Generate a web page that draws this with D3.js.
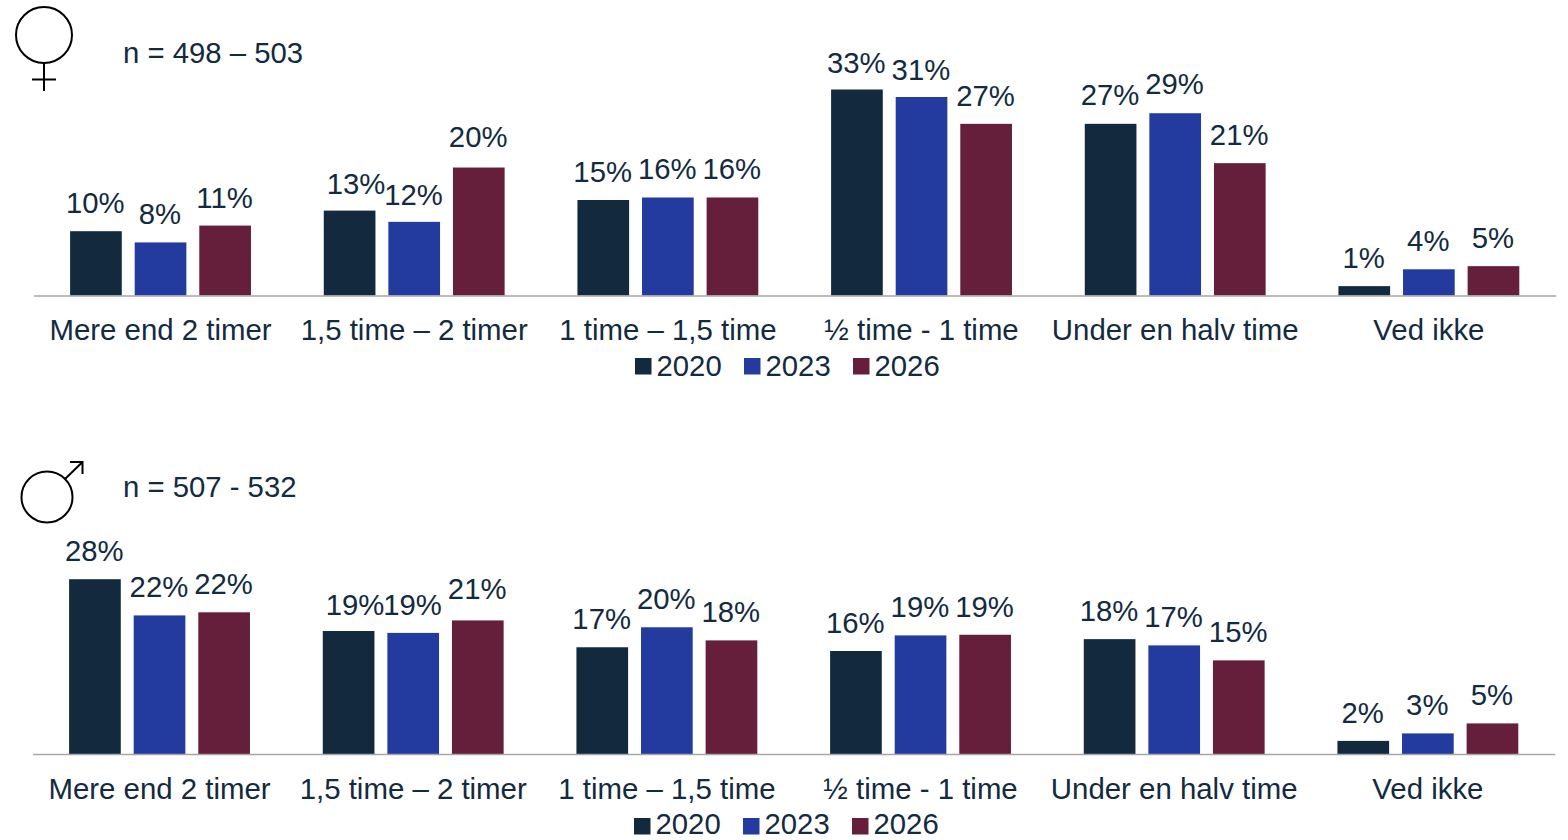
<!DOCTYPE html>
<html><head><meta charset="utf-8">
<style>html,body{margin:0;padding:0;background:#fff;overflow:hidden}svg{display:block}text{font-family:"Liberation Sans",Arial,sans-serif;fill:#132a3f}</style>
<script src="https://cdn.jsdelivr.net/npm/d3@7"></script></head><body>
<script>
const categories = ["Mere end 2 timer","1,5 time – 2 timer","1 time – 1,5 time","½ time - 1 time","Under en halv time","Ved ikke"];
const years = ["2020","2023","2026"];
const colors = ["#12293e","#233b9f","#651f3b"];
const female2020 = [10.3,13.6,15.3,33.0,27.5,1.5];
const female2023 = [8.5,11.8,15.7,31.8,29.2,4.2];
const female2026 = [11.2,20.5,15.7,27.5,21.2,4.7];
const femaleLabels2020 = ["10%","13%","15%","33%","27%","1%"];
const femaleLabels2023 = ["8%","12%","16%","31%","29%","4%"];
const femaleLabels2026 = ["11%","20%","16%","27%","21%","5%"];
const male2020 = [28.0,19.7,17.1,16.5,18.4,2.1];
const male2023 = [22.2,19.4,20.3,19.0,17.4,3.3];
const male2026 = [22.7,21.4,18.2,19.1,15.0,4.9];
const maleLabels2020 = ["28%","19%","17%","16%","18%","2%"];
const maleLabels2023 = ["22%","19%","20%","19%","17%","3%"];
const maleLabels2026 = ["22%","21%","18%","19%","15%","5%"];
const FS = 29.3;
const svg = d3.select("body").append("svg").attr("width",1568).attr("height",840);

function panel(o){
  const x0 = d3.scaleBand().domain(categories).range([o.left-0.3,o.left+1521.7]).paddingInner(0.287).paddingOuter(0.1435);
  const x1 = d3.scaleBand().domain(years).range([0,x0.bandwidth()]).paddingInner(0.2).paddingOuter(0);
  const y = d3.scaleLinear().domain([0,33]).range([o.base,o.base-206]);
  const g = svg.append("g");
  years.forEach((yr,i)=>{
    const s = g.append("g");
    s.selectAll("rect").data(o.values[i]).join("rect")
      .attr("x",(d,k)=>x0(categories[k])+x1(yr)).attr("width",x1.bandwidth())
      .attr("y",d=>y(d)).attr("height",d=>o.base-y(d)).attr("fill",colors[i]);
    s.selectAll("text").data(o.values[i]).join("text")
      .attr("x",(d,k)=>x0(categories[k])+x1(yr)+x1.bandwidth()/2-0.6+(o.nudge[i+"-"+k]||0))
      .attr("y",(d,k)=>y(d)-18+(o.lift[i+"-"+k]||0)).attr("text-anchor","middle").attr("font-size",FS)
      .text((d,k)=>o.labels[i][k]);
  });
  const ax = g.append("g").attr("transform",`translate(0,${o.base})`).call(d3.axisBottom(x0).tickSize(0).tickPadding(24));
  ax.select(".domain").attr("stroke","#a6a6a6").attr("stroke-width",1.3);
  ax.selectAll("text").attr("font-size",29.4).attr("font-family",'"Liberation Sans",Arial,sans-serif').attr("fill","#132a3f");
  const lg = g.append("g");
  years.forEach((yr,i)=>{
    const lx = o.left+601+i*109;
    lg.append("rect").attr("x",lx).attr("y",o.legendY-8).attr("width",16.5).attr("height",16.5).attr("fill",colors[i]);
    lg.append("text").attr("x",lx+21.5).attr("y",o.legendTextY).attr("font-size",FS).text(yr);
  });
  svg.append("text").attr("x",123).attr("y",o.nY).attr("font-size",FS).text(o.n);
}
panel({left:34,base:295.5,legendY:366,legendTextY:376,nY:63,n:"n = 498 – 503",
  values:[female2020,female2023,female2026],labels:[femaleLabels2020,femaleLabels2023,femaleLabels2026],
  nudge:{"0-1":7},lift:{"2-1":-2.5,"1-4":-1.5,"0-4":-0.5,"0-3":1.5,"1-3":1.5,"0-1":1.5,"1-1":1.5}});
panel({left:33,base:754,legendY:826,legendTextY:833.5,nY:497,n:"n = 507 - 532",
  values:[male2020,male2023,male2026],labels:[maleLabels2020,maleLabels2023,maleLabels2026],
  nudge:{"0-1":7},lift:{"2-1":-3.5,"0-1":1.5}});

const sym = svg.append("g").attr("fill","none").attr("stroke","#000").attr("stroke-width",2);
sym.append("circle").attr("cx",44).attr("cy",35).attr("r",28);
sym.append("path").attr("d","M44 63V91M32 79.5H56");
sym.append("circle").attr("cx",47).attr("cy",497).attr("r",25.5);
sym.append("path").attr("d","M65 479L82.5 462M70 462H82.5V474");
</script></body></html>
